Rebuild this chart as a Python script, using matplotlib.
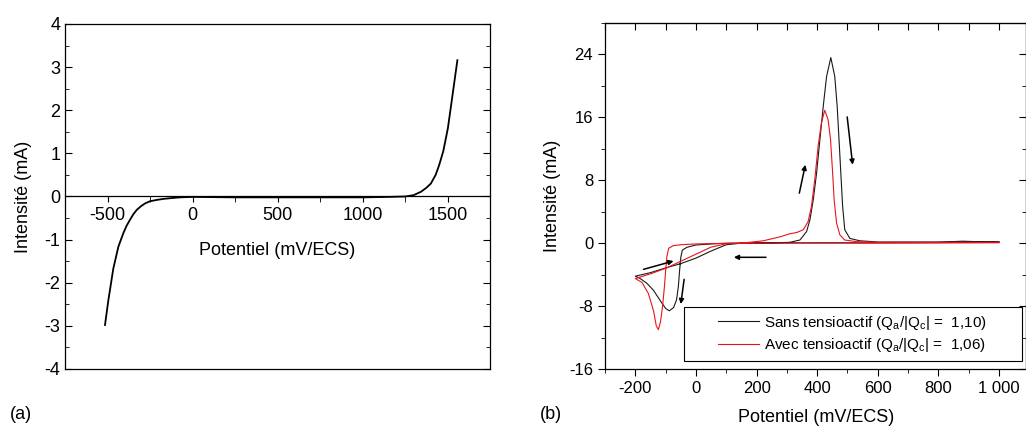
import matplotlib
matplotlib.use("Agg")
import matplotlib.pyplot as plt
from matplotlib.ticker import MultipleLocator, FuncFormatter
from matplotlib.patches import Rectangle

plt.rcParams['font.family'] = ['Liberation Sans', 'DejaVu Sans']
plt.rcParams['axes.unicode_minus'] = False

# === (a) courbe de polarisation ===
pot_a = [-515, -495, -466, -436, -407, -388, -368, -348, -328, -305, -279, -250, -211,
         -170, -132, -74, 0, 250, 500, 750, 1000, 1150, 1250, 1300, 1344, 1375, 1402,
         1430, 1451, 1475, 1502, 1528, 1558]
int_a = [-2.98, -2.4, -1.67, -1.16, -0.85, -0.68, -0.54, -0.41, -0.31, -0.23, -0.16, -0.11,
         -0.08, -0.055, -0.04, -0.02, -0.01, -0.02, -0.02, -0.02, -0.02, -0.01, 0.0, 0.03,
         0.11, 0.2, 0.3, 0.5, 0.73, 1.05, 1.58, 2.31, 3.16]

# === (b) voltampérogrammes ===
pot_sans = [1000, 800, 600, 400, 200, 112, 60, 0, -30, -45, -50, -54, -58, -64, -74, -88,
            -100, -118, -140, -162, -184, -200,
            -150, -100, -50, 0, 50, 100, 150, 250, 310, 343, 365, 376, 387, 398, 409, 420,
            431, 445, 458, 466, 472, 478, 484, 491, 508, 541, 600, 800, 850, 880, 920, 1000]
int_sans = [0.12, 0.08, 0.05, 0.05, 0.02, 0.0, -0.08, -0.23, -0.53, -0.9, -1.8, -3.5, -5.5,
            -7.2, -8.2, -8.6, -8.3, -7.3, -6.0, -5.1, -4.5, -4.2,
            -3.75, -3.15, -2.6, -1.9, -1.0, -0.2, 0.0, 0.02, 0.11, 0.4, 1.47, 2.96, 5.5, 8.9,
            13.2, 17.4, 21.2, 23.6, 21.2, 17.4, 13.2, 8.9, 4.65, 1.7, 0.6, 0.3, 0.15, 0.15,
            0.2, 0.25, 0.2, 0.15]

pot_avec = [1000, 800, 600, 400, 200, 100, 0, -50, -75, -90, -96, -100, -104, -110, -117,
            -124, -131, -140, -157, -178, -200,
            -150, -100, -50, 0, 50, 100, 150, 222, 277, 310, 332, 354, 370, 381, 392, 403,
            414, 425, 436, 444, 451, 456, 464, 475, 491, 530, 600, 1000]
int_avec = [0.05, 0.02, 0.0, 0.0, 0.0, -0.02, -0.1, -0.2, -0.32, -0.65, -1.7, -3.5, -5.5,
            -8.0, -10.0, -11.0, -10.5, -8.6, -6.4, -5.0, -4.5,
            -3.9, -3.2, -2.3, -1.4, -0.5, -0.08, 0.0, 0.3, 0.8, 1.2, 1.35, 1.7, 2.74, 4.65,
            8.06, 12.3, 15.3, 16.9, 15.7, 13.2, 8.9, 5.5, 2.54, 1.04, 0.4, 0.19, 0.1, 0.1]

# flèches : (départ, arrivée) en mV, mA
arrows = [((231, -1.8), (125, -1.8)),
          ((-39, -4.6), (-50, -7.75)),
          ((-173, -3.33), (-74, -2.27)),
          ((341, 6.36), (361, 9.97)),
          ((499, 16.05), (517, 9.97))]

fig = plt.figure(figsize=(10.26, 4.3), dpi=100)

# ---------- panneau (a) ----------
ax1 = fig.add_axes([0.0634, 0.1419, 0.4142, 0.8023])
ax1.plot(pot_a, int_a, color='black', lw=1.3)
ax1.set_xlim(-750, 1750)
ax1.set_ylim(-4, 4)
ax1.yaxis.set_major_locator(MultipleLocator(1))
ax1.yaxis.set_minor_locator(MultipleLocator(0.5))
ax1.xaxis.set_major_locator(MultipleLocator(500))
ax1.xaxis.set_minor_locator(MultipleLocator(250))
ax1.tick_params(axis='y', which='both', direction='in', left=True, right=True,
                labelsize=13)
ax1.tick_params(axis='y', which='major', length=5)
ax1.tick_params(axis='y', which='minor', length=3)
ax1.tick_params(axis='x', which='both', direction='out', length=4, labelsize=13)
for sp in ax1.spines.values():
    sp.set_linewidth(0.9)
# axe des x sur la ligne zéro, cadre fermé en bas
ax1.spines['bottom'].set_position(('data', 0))
ax1.axhline(-4, color='black', lw=0.9, clip_on=False)

ax1.set_ylabel("Intensité (mA)", fontsize=13)
ax1.yaxis.set_label_coords(-0.078, 0.5)
ax1.text(0.499, 0.342, "Potentiel (mV/ECS)", transform=ax1.transAxes,
         ha='center', va='center', fontsize=13)

# ---------- panneau (b) ----------
ax2 = fig.add_axes([0.5897, 0.1419, 0.4106, 0.8047])
l1, = ax2.plot(pot_sans, int_sans, color='#1a1a1a', lw=0.8)
l2, = ax2.plot(pot_avec, int_avec, color='#e8141c', lw=0.8)
ax2.set_xlim(-300, 1090)
ax2.set_ylim(-16, 28)
ax2.xaxis.set_major_locator(MultipleLocator(200))
ax2.xaxis.set_minor_locator(MultipleLocator(100))
ax2.yaxis.set_major_locator(MultipleLocator(8))
ax2.yaxis.set_minor_locator(MultipleLocator(4))
ax2.xaxis.set_major_formatter(FuncFormatter(
    lambda v, p: f"{int(v):,}".replace(",", " ")))
ax2.tick_params(which='both', direction='out', labelsize=12, top=False, right=False)
ax2.tick_params(which='major', length=5)
ax2.tick_params(which='minor', length=3)
for sp in ax2.spines.values():
    sp.set_linewidth(0.9)

# ticks haut et droite vers l'intérieur
ax2t = ax2.secondary_xaxis('top')
ax2t.xaxis.set_major_locator(MultipleLocator(100))
ax2t.tick_params(direction='in', length=5, labeltop=False)
ax2r = ax2.secondary_yaxis('right')
ax2r.yaxis.set_major_locator(MultipleLocator(8))
ax2r.yaxis.set_minor_locator(MultipleLocator(4))
ax2r.tick_params(which='both', direction='in', labelright=False)
ax2r.tick_params(which='major', length=5)
ax2r.tick_params(which='minor', length=3)

for (x0, y0), (x1, y1) in arrows:
    ax2.annotate("", xy=(x1, y1), xytext=(x0, y0),
                 arrowprops=dict(arrowstyle='-|>', color='black', lw=1.1,
                                 mutation_scale=7, shrinkA=0, shrinkB=0))

ax2.set_ylabel("Intensité (mA)", fontsize=13)
ax2.yaxis.set_label_coords(-0.104, 0.5)
ax2.set_xlabel("Potentiel (mV/ECS)", fontsize=13)
ax2.xaxis.set_label_coords(0.502, -0.116)

lab1 = r"Sans tensioactif (Q$_\mathregular{a}$/|Q$_\mathregular{c}$| =  1,10)"
lab2 = r"Avec tensioactif (Q$_\mathregular{a}$/|Q$_\mathregular{c}$| =  1,06)"
ax2.legend([l1, l2], [lab1, lab2], loc='center left', bbox_to_anchor=(0.268, 0.101),
           frameon=False, fontsize=11, handlelength=2.7, handletextpad=0.3,
           labelspacing=0.3, borderpad=0, borderaxespad=0)
ax2.add_patch(Rectangle((0.1875, 0.023), 0.8025, 0.156, transform=ax2.transAxes,
                        fill=False, ec='black', lw=0.8, zorder=5))

fig.text(0.0097, 0.035, "(a)", fontsize=13, va='center')
fig.text(0.526, 0.035, "(b)", fontsize=13, va='center')

fig.savefig("out.png", dpi=100)
